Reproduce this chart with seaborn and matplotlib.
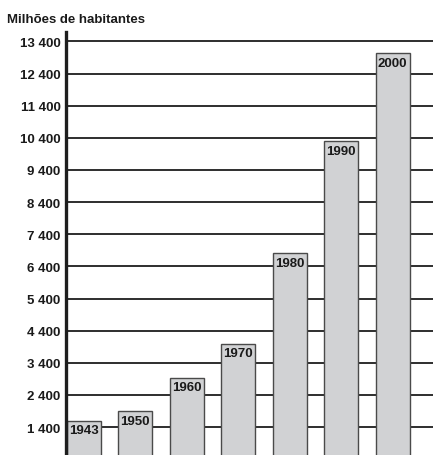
import matplotlib
matplotlib.use("Agg")
import matplotlib.pyplot as plt
import seaborn as sns
import pandas as pd

# Population (millions of inhabitants) by year
years = ["1943", "1950", "1960", "1970", "1980", "1990", "2000"]
population = [1600, 1890, 2940, 3990, 6810, 10300, 13030]
y_ticks = [1400, 2400, 3400, 4400, 5400, 6400, 7400, 8400, 9400, 10400, 11400, 12400, 13400]
y_tick_labels = ["1 400", "2 400", "3 400", "4 400", "5 400", "6 400", "7 400",
                 "8 400", "9 400", "10 400", "11 400", "12 400", "13 400"]

sns.set_theme(style="white")
plt.rcParams["font.family"] = ["Liberation Sans", "DejaVu Sans"]
plt.rcParams["font.weight"] = "bold"

df = pd.DataFrame({"ano": years, "pop": population})

fig = plt.figure(figsize=(4.33, 4.56), dpi=100)
ax = fig.add_axes([66 / 433, 0.0, 1 - 66 / 433, 1 - 33 / 456])

sns.barplot(data=df, x="ano", y="pop", ax=ax, color="#d1d2d4", width=0.66,
            edgecolor="#4a4a4a", linewidth=1.0, saturation=1, zorder=3)

# horizontal reference lines behind the bars
for t in y_ticks:
    ax.axhline(t, color="#2e2e2e", lw=1.4, zorder=1)

ax.set_ylim(529, 13695)
ax.set_xlim(-0.34, 6.786)
ax.set_yticks(y_ticks)
ax.set_yticklabels(y_tick_labels, fontsize=9.5, fontweight="bold", color="#1a1a1a")
ax.tick_params(axis="y", length=0, pad=4)
ax.set_xticks([])
ax.set_xlabel("")
ax.set_ylabel("")

for side in ["top", "right", "bottom"]:
    ax.spines[side].set_visible(False)
ax.spines["left"].set_color("#1e1e1e")
ax.spines["left"].set_linewidth(2.4)
ax.spines["left"].set_zorder(5)

# year labels inside the top of each bar
for i, (yr, v) in enumerate(zip(years, population)):
    ax.annotate(yr, xy=(i, v), xytext=(0, -2.5), textcoords="offset points",
                ha="center", va="top", fontsize=9.5, fontweight="bold",
                color="#1a1a1a", zorder=6)

fig.text(7 / 433, 1 - 20 / 456, "Milhões de habitantes", ha="left", va="center",
         fontsize=9.5, fontweight="bold", color="#1a1a1a")

fig.savefig("out.png", dpi=100)
